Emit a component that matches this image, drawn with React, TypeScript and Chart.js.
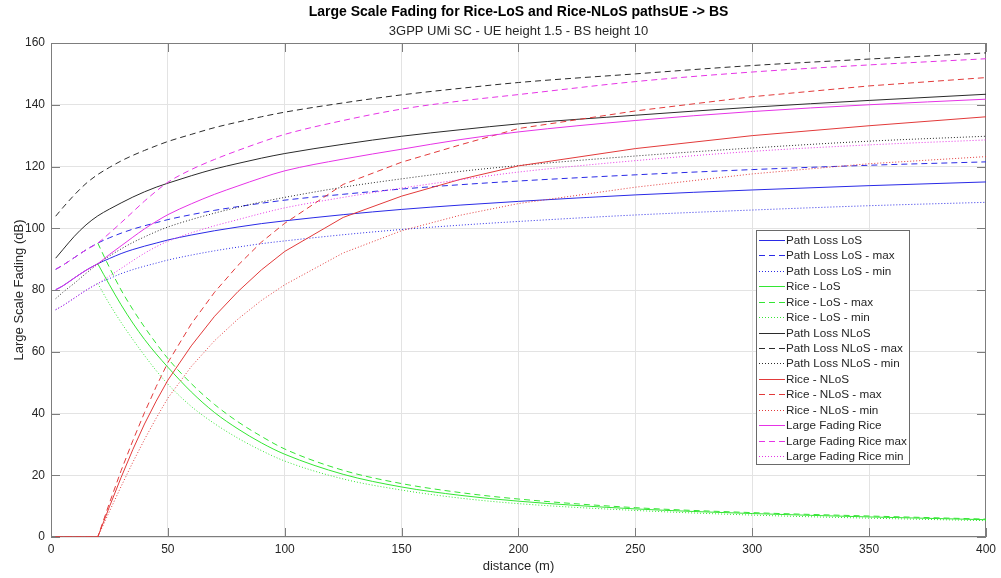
import React, { useEffect, useRef } from 'react';
import { Chart, registerables } from 'chart.js';

Chart.register(...registerables);

// ---------- data ----------
const distance = [2, 5, 10, 15, 20, 25, 30, 35, 40, 45, 50, 60, 70, 80, 90, 100, 125, 150, 175, 200, 250, 300, 350, 400];

const pathLossLoS = [80.1, 81.3, 83.9, 86.4, 88.5, 90.2, 91.8, 93.1, 94.2, 95.2, 96.2, 97.8, 99.2, 100.4, 101.5, 102.4, 104.4, 106.1, 107.5, 108.7, 110.8, 112.4, 113.8, 115.0];
const pathLossLoSMax = [86.7, 88.0, 90.5, 93.0, 95.2, 96.9, 98.4, 99.7, 100.8, 101.8, 102.8, 104.4, 105.8, 107.0, 108.1, 109.1, 111.0, 112.7, 114.1, 115.3, 117.3, 119.0, 120.4, 121.5];
const pathLossLoSMin = [73.6, 74.9, 77.4, 79.9, 82.1, 83.7, 85.3, 86.6, 87.7, 88.7, 89.7, 91.3, 92.7, 93.9, 95.0, 95.9, 97.9, 99.6, 101.0, 102.2, 104.3, 105.9, 107.3, 108.4];

const riceLoS = [null, null, null, null, 88.5, 81.7, 75.2, 69.3, 64.0, 59.3, 55.0, 47.0, 40.3, 35.0, 30.5, 26.8, 20.3, 16.2, 13.5, 11.6, 9.1, 7.6, 6.5, 5.6];
const riceLoSMax = [null, null, null, null, 95.2, 87.3, 80.0, 73.7, 68.0, 62.7, 57.8, 49.7, 42.9, 37.3, 32.6, 28.5, 21.6, 17.3, 14.4, 12.3, 9.5, 7.9, 6.8, 5.8];
const riceLoSMin = [null, null, null, null, 82.1, 75.5, 69.5, 64.0, 58.8, 53.9, 49.5, 42.3, 36.7, 32.0, 28.0, 24.6, 18.8, 15.2, 12.6, 10.8, 8.6, 7.1, 6.1, 5.3];

const pathLossNLoS = [90.3, 93.0, 97.4, 101.1, 104.0, 106.2, 108.2, 110.1, 111.8, 113.3, 114.6, 117.0, 119.2, 121.0, 122.7, 124.2, 127.2, 129.8, 131.9, 133.8, 136.6, 139.2, 141.4, 143.4];
const pathLossNLoSMax = [103.9, 106.6, 110.8, 114.5, 117.4, 119.7, 121.8, 123.6, 125.2, 126.7, 128.1, 130.4, 132.6, 134.4, 136.1, 137.6, 140.6, 143.2, 145.3, 147.2, 150.0, 152.7, 154.8, 156.8];
const pathLossNLoSMin = [77.2, 79.2, 82.2, 85.4, 88.4, 91.0, 93.3, 95.4, 97.2, 98.9, 100.4, 102.8, 104.9, 106.8, 108.5, 110.0, 113.3, 116.0, 118.4, 120.3, 123.4, 126.0, 128.2, 129.8];

const riceNLoS = [0, 0, 0, 0, 0, 9.8, 19.3, 28.3, 36.6, 44.0, 50.8, 61.9, 71.5, 79.5, 86.5, 92.5, 103.5, 110.4, 115.8, 120.2, 125.8, 130.0, 133.2, 136.1];
const riceNLoSMax = [0, 0, 0, 0, 0, 11.0, 21.5, 31.2, 40.3, 48.7, 56.5, 69.0, 79.3, 88.0, 95.5, 101.6, 114.2, 121.4, 127.0, 132.3, 138.0, 142.6, 146.1, 148.8];
const riceNLoSMin = [0, 0, 0, 0, 0, 8.3, 16.4, 24.2, 31.6, 38.5, 45.0, 55.2, 63.6, 70.6, 76.6, 81.7, 92.0, 99.2, 104.2, 108.0, 113.3, 117.6, 120.9, 123.2];

const largeFadingRice = [80.1, 81.3, 83.9, 86.4, 88.5, 91.5, 94.3, 97.1, 99.8, 102.2, 104.4, 107.9, 111.0, 113.7, 116.3, 118.6, 122.4, 125.6, 128.7, 131.2, 134.9, 137.8, 140.0, 141.8];
const largeFadingRiceMax = [86.7, 88.0, 90.5, 93.0, 95.2, 98.4, 101.8, 105.3, 108.8, 112.0, 114.9, 119.0, 122.3, 125.2, 127.9, 130.4, 134.9, 138.6, 141.2, 143.3, 147.5, 150.6, 152.9, 154.9];
const largeFadingRiceMin = [73.6, 74.9, 77.4, 79.9, 82.1, 84.5, 87.0, 89.5, 91.9, 94.0, 95.8, 98.5, 100.8, 102.8, 104.8, 106.6, 110.0, 113.0, 115.7, 118.2, 121.9, 124.9, 127.0, 128.6];

const xTicks = [0, 50, 100, 150, 200, 250, 300, 350, 400];
const yTicks = [0, 20, 40, 60, 80, 100, 120, 140, 160];

const titleText = 'Large Scale Fading for Rice-LoS and Rice-NLoS pathsUE -> BS';
const subtitleText = '3GPP UMi SC - UE height 1.5 - BS height 10';
const xLabel = 'distance (m)';
const yLabel = 'Large Scale Fading (dB)';

// ---------- styles ----------
const BLUE = '#2a2ae6';
const GREEN = '#33e633';
const BLACK = '#2b2b2b';
const RED = '#e23a3a';
const MAGENTA = '#e633e6';
const FONT = '"Liberation Sans", Arial, Helvetica, sans-serif';
const AXIS = '#7d7d7d';
const GRID = '#e3e3e3';
const TEXT = '#262626';
const DASH = [6, 4];
const DOT = [1, 2];

type S = { label: string; values: (number | null)[]; color: string; dash: number[]; tension: number };

const seriesList: S[] = [
  { label: 'Path Loss LoS', values: pathLossLoS, color: BLUE, dash: [], tension: 0.4 },
  { label: 'Path Loss LoS - max', values: pathLossLoSMax, color: BLUE, dash: DASH, tension: 0.4 },
  { label: 'Path Loss LoS - min', values: pathLossLoSMin, color: BLUE, dash: DOT, tension: 0.4 },
  { label: 'Rice - LoS', values: riceLoS, color: GREEN, dash: [], tension: 0.4 },
  { label: 'Rice - LoS - max', values: riceLoSMax, color: GREEN, dash: DASH, tension: 0.4 },
  { label: 'Rice - LoS - min', values: riceLoSMin, color: GREEN, dash: DOT, tension: 0.4 },
  { label: 'Path Loss NLoS', values: pathLossNLoS, color: BLACK, dash: [], tension: 0.4 },
  { label: 'Path Loss NLoS - max', values: pathLossNLoSMax, color: BLACK, dash: DASH, tension: 0.4 },
  { label: 'Path Loss NLoS - min', values: pathLossNLoSMin, color: BLACK, dash: DOT, tension: 0.4 },
  { label: 'Rice - NLoS', values: riceNLoS, color: RED, dash: [], tension: 0 },
  { label: 'Rice - NLoS - max', values: riceNLoSMax, color: RED, dash: DASH, tension: 0 },
  { label: 'Rice - NLoS - min', values: riceNLoSMin, color: RED, dash: DOT, tension: 0 },
  { label: 'Large Fading Rice', values: largeFadingRice, color: MAGENTA, dash: [], tension: 0.4 },
  { label: 'Large Fading Rice max', values: largeFadingRiceMax, color: MAGENTA, dash: DASH, tension: 0.4 },
  { label: 'Large Fading Rice min', values: largeFadingRiceMin, color: MAGENTA, dash: DOT, tension: 0.4 },
];

const decorPlugin = {
  id: 'decor',
  beforeDatasetsDraw(chart: any) {
    const { ctx, chartArea: a, scales } = chart;
    ctx.save();
    ctx.strokeStyle = AXIS;
    ctx.lineWidth = 1;
    ctx.setLineDash([]);
    ctx.strokeRect(Math.round(a.left) + 0.5, Math.round(a.top) + 0.5, Math.round(a.right - a.left) - 1, Math.round(a.bottom - a.top) - 1);
    const TL = 9;
    ctx.beginPath();
    for (const v of xTicks) {
      const px = Math.round(scales.x.getPixelForValue(v)) + 0.5;
      ctx.moveTo(px, a.bottom);
      ctx.lineTo(px, a.bottom - TL);
      ctx.moveTo(px, a.top);
      ctx.lineTo(px, a.top + TL);
    }
    for (const v of yTicks) {
      const py = Math.round(scales.y.getPixelForValue(v)) + 0.5;
      ctx.moveTo(a.left, py);
      ctx.lineTo(a.left + TL, py);
      ctx.moveTo(a.right, py);
      ctx.lineTo(a.right - TL, py);
    }
    ctx.stroke();
    ctx.restore();
  },
  afterDraw(chart: any) {
    const { ctx, chartArea: a } = chart;
    const cx = (a.left + a.right) / 2;
    ctx.save();
    ctx.fillStyle = '#000';
    ctx.textAlign = 'center';
    ctx.textBaseline = 'middle';
    ctx.font = `bold 14px ${FONT}`;
    ctx.fillText(titleText, cx, 12);
    ctx.fillStyle = TEXT;
    ctx.font = `13px ${FONT}`;
    ctx.fillText(subtitleText, cx, 31);
    ctx.fillText(xLabel, cx, 566);
    ctx.save();
    ctx.translate(19, (a.top + a.bottom) / 2);
    ctx.rotate(-Math.PI / 2);
    ctx.fillText(yLabel, 0, 0);
    ctx.restore();

    // legend
    const L = 756.5, T = 230.5, R = 909.5, B = 464.5;
    ctx.fillStyle = '#fff';
    ctx.fillRect(L, T, R - L, B - T);
    ctx.strokeStyle = '#6a6a6a';
    ctx.lineWidth = 1;
    ctx.setLineDash([]);
    ctx.strokeRect(L, T, R - L, B - T);
    ctx.font = `11.7px ${FONT}`;
    ctx.textAlign = 'left';
    ctx.textBaseline = 'middle';
    seriesList.forEach((s, i) => {
      const y = Math.round(240 + i * 15.43) + 0.5;
      ctx.strokeStyle = s.color;
      ctx.lineWidth = 1;
      ctx.setLineDash(s.dash);
      ctx.beginPath();
      ctx.moveTo(759, y);
      ctx.lineTo(785, y);
      ctx.stroke();
      ctx.setLineDash([]);
      ctx.fillStyle = TEXT;
      ctx.fillText(s.label, 786, y);
    });
    ctx.restore();
  },
};

export default function App() {
  const ref = useRef<HTMLCanvasElement | null>(null);
  useEffect(() => {
    if (!ref.current) return;
    const n = seriesList.length;
    const chart = new Chart(ref.current, {
      type: 'line',
      data: {
        datasets: seriesList.map((s, i) => ({
          label: s.label,
          data: distance.map((d, k) => ({ x: d, y: s.values[k] })) as any,
          borderColor: s.color,
          backgroundColor: s.color,
          borderWidth: 1,
          borderDash: s.dash,
          pointRadius: 0,
          pointHoverRadius: 0,
          fill: false,
          tension: s.tension,
          cubicInterpolationMode: s.tension > 0 ? 'monotone' : 'default',
          spanGaps: false,
          order: n - i,
        })),
      },
      options: {
        animation: false,
        responsive: true,
        maintainAspectRatio: false,
        events: [],
        layout: { padding: { top: 43, right: 13, left: 0, bottom: 0 } },
        plugins: { legend: { display: false }, title: { display: false }, tooltip: { enabled: false } },
        scales: {
          x: {
            type: 'linear',
            min: 0,
            max: 400,
            afterFit: (s: any) => { s.height = 41; },
            afterBuildTicks: (s: any) => { s.ticks = xTicks.map((v) => ({ value: v })); },
            ticks: { color: TEXT, font: { family: FONT, size: 12 }, padding: 5, maxRotation: 0, autoSkip: false },
            grid: { color: GRID, drawTicks: false, lineWidth: 1 },
            border: { display: false },
          },
          y: {
            type: 'linear',
            min: 0,
            max: 160,
            afterFit: (s: any) => { s.width = 51; },
            afterBuildTicks: (s: any) => { s.ticks = yTicks.map((v) => ({ value: v })); },
            ticks: { color: TEXT, font: { family: FONT, size: 12 }, padding: 6, autoSkip: false },
            grid: { color: GRID, drawTicks: false, lineWidth: 1 },
            border: { display: false },
          },
        },
      } as any,
      plugins: [decorPlugin],
    });
    return () => chart.destroy();
  }, []);
  return (
    <div style={{ position: 'fixed', left: 0, top: 0, width: 1001, height: 578, background: '#fff' }}>
      <canvas ref={ref} />
    </div>
  );
}
